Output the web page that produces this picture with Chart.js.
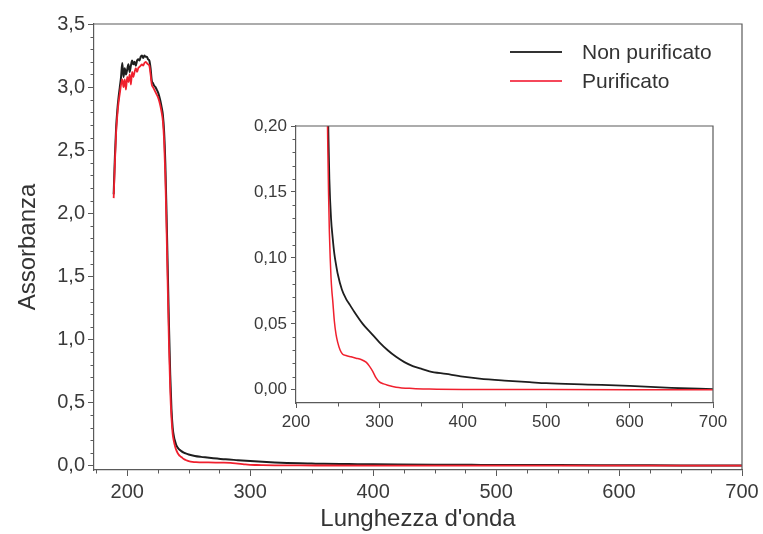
<!DOCTYPE html>
<html><head><meta charset="utf-8">
<script src="https://cdn.jsdelivr.net/npm/chart.js@4"></script>
<style>
html,body{margin:0;padding:0;background:#fff;}
#wrap{position:relative;width:763px;height:534px;font-family:"Liberation Sans",Arial,sans-serif;overflow:hidden;}
#main{position:absolute;left:0;top:0;}
#inset{position:absolute;left:230px;top:110px;}
.legline{position:absolute;left:510px;width:52px;height:0;}
.legtxt{position:absolute;left:582px;font-size:21px;color:#333;line-height:24px;white-space:nowrap;}
</style>
</head><body>
<div id="wrap">
<canvas id="main" width="763" height="534"></canvas>
<canvas id="inset" width="505" height="325"></canvas>
<div class="legline" style="top:51px;border-top:2px solid #333;"></div>
<div class="legtxt" style="top:40px;">Non purificato</div>
<div class="legline" style="top:80px;border-top:2px solid #f5475a;"></div>
<div class="legtxt" style="top:69px;">Purificato</div>
</div>
<script>
// ---- Data ----
const seriesNames = ["Non purificato", "Purificato"];

const wlNonPur = [189,190,191,192,193,194,195,196,197,198,199,200,201,202,203,204,205,206,207,208,209,210,211,212,213,214,215,216,217,218,219,220,221,222,223,224,225,226,227,228,229,230,231,232,233,234,235,236,237,238,239,240,242,244,246,248,250,255,260,265,270,280,290,300,310,320,330,340,350,360,380,400,420,450,480,500,550,600,650,700];
const absNonPur = [2.15,2.45,2.68,2.82,2.92,3.00,3.08,3.19,3.08,3.15,3.10,3.14,3.18,3.12,3.17,3.21,3.18,3.20,3.17,3.21,3.22,3.21,3.24,3.25,3.23,3.25,3.24,3.24,3.22,3.21,3.15,3.05,3.03,3.01,3.00,2.98,2.96,2.93,2.89,2.84,2.78,2.65,2.40,2.00,1.55,1.10,0.72,0.45,0.30,0.23,0.19,0.16,0.13,0.115,0.103,0.095,0.088,0.076,0.069,0.064,0.059,0.050,0.043,0.036,0.030,0.025,0.021,0.018,0.016,0.014,0.012,0.010,0.0085,0.007,0.0058,0.005,0.004,0.003,0.0015,0.0005];

const wlPur = [189,190,191,192,193,194,195,196,197,198,199,200,201,202,203,204,205,206,207,208,209,210,211,212,213,214,215,216,217,218,219,220,221,222,223,224,225,226,227,228,229,230,231,232,233,234,235,236,237,238,239,240,241,242,243,244,246,248,250,253,256,260,266,272,278,284,288,292,296,300,305,310,320,340,360,400,500,600,700];
const absPur = [2.12,2.40,2.64,2.78,2.88,2.95,3.02,3.06,3.00,3.06,2.98,3.08,3.04,3.10,3.02,3.12,3.08,3.12,3.15,3.12,3.15,3.16,3.17,3.18,3.17,3.19,3.20,3.19,3.18,3.17,3.10,3.02,3.00,2.98,2.96,2.94,2.92,2.89,2.85,2.80,2.73,2.58,2.30,1.88,1.40,0.95,0.60,0.38,0.25,0.19,0.15,0.12,0.10,0.085,0.075,0.068,0.052,0.042,0.036,0.030,0.027,0.026,0.025,0.024,0.023,0.021,0.018,0.014,0.009,0.006,0.0045,0.0035,0.002,0.001,0.0006,0.0003,0.0002,0.0001,0.0];

// Tick labels / positions
const mainXTicks = [200,300,400,500,600,700];
const mainXMinor = [175,225,250,275,325,350,375,425,450,475,525,550,575,625,650,675];
const mainYTicks = [0,0.5,1.0,1.5,2.0,2.5,3.0,3.5];
const mainYMinor = [0.1,0.2,0.3,0.4,0.6,0.7,0.8,0.9,1.1,1.2,1.3,1.4,1.6,1.7,1.8,1.9,2.1,2.2,2.3,2.4,2.6,2.7,2.8,2.9,3.1,3.2,3.3,3.4];
const insetXTicks = [200,300,400,500,600,700];
const insetXMinor = [250,350,450,550,650];
const insetYTicks = [0,0.05,0.10,0.15,0.20];
const insetYMinor = [0.01,0.02,0.03,0.04,0.06,0.07,0.08,0.09,0.11,0.12,0.13,0.14,0.16,0.17,0.18,0.19];

const colNonPur = '#1e1e1e';
const colPur = '#f0202e';
const axisCol = '#5a5a5a';
const labelCol = '#3a3a3a';
const FONT = '"Liberation Sans", Arial, sans-serif';

function pts(xs, ys){ return xs.map((x,i)=>({x:x,y:ys[i]})); }

const frameAndMinor = {
  id:'frameAndMinor',
  afterDraw(chart, args, opts){
    const ctx = chart.ctx, a = chart.chartArea;
    ctx.save();
    ctx.strokeStyle = axisCol; ctx.lineWidth = 1.2;
    ctx.beginPath();
    ctx.moveTo(a.left, a.top); ctx.lineTo(a.right, a.top); ctx.lineTo(a.right, a.bottom);
    ctx.stroke();
    ctx.lineWidth = 1;
    const xs = chart.scales.x, ys = chart.scales.y;
    ctx.beginPath();
    (opts.xMinor||[]).forEach(v=>{ const p = Math.round(xs.getPixelForValue(v))+0.5; ctx.moveTo(p, a.bottom); ctx.lineTo(p, a.bottom+3.5); });
    (opts.yMinor||[]).forEach(v=>{ const p = Math.round(ys.getPixelForValue(v))+0.5; ctx.moveTo(a.left-3.5, p); ctx.lineTo(a.left, p); });
    ctx.stroke();
    ctx.restore();
  }
};

function makeChart(canvas, cfg){
  return new Chart(canvas, {
    type:'line',
    data:{ datasets:[
      { label:seriesNames[0], data:pts(wlNonPur, absNonPur), borderColor:colNonPur, borderWidth:cfg.bw0, pointRadius:0, cubicInterpolationMode:'monotone', order:2 },
      { label:seriesNames[1], data:pts(wlPur, absPur), borderColor:colPur, borderWidth:cfg.bw1, pointRadius:0, cubicInterpolationMode:'monotone', order:1 }
    ]},
    options:{
      responsive:false, animation:false, devicePixelRatio:1,
      layout:{ padding:cfg.padding },
      plugins:{ legend:{display:false}, tooltip:{enabled:false}, frameAndMinor:{ xMinor:cfg.xMinor, yMinor:cfg.yMinor } },
      scales:{
        x:{ type:'linear', min:cfg.xmin, max:cfg.xmax,
            afterBuildTicks:s=>{ s.ticks = cfg.xTicks.map(v=>({value:v})); },
            afterFit:s=>{ s.height = cfg.xh; },
            ticks:{ autoSkip:false, maxRotation:0, padding:cfg.xpad, color:labelCol, font:{family:FONT, size:cfg.tickSize}, callback:v=>String(v) },
            grid:{ drawOnChartArea:false, drawTicks:true, tickLength:cfg.tl, tickColor:axisCol, tickWidth:1 },
            border:{ display:true, color:axisCol, width:1.2 },
            title:{ display:!!cfg.xTitle, text:cfg.xTitle||'', color:'#333', font:{family:FONT, size:cfg.titleSize}, padding:{top:0,bottom:0} }
        },
        y:{ type:'linear', min:cfg.ymin, max:cfg.ymax,
            afterBuildTicks:s=>{ s.ticks = cfg.yTicks.map(v=>({value:v})); },
            afterFit:s=>{ s.width = cfg.yw; },
            ticks:{ autoSkip:false, padding:cfg.ypad, color:labelCol, font:{family:FONT, size:cfg.tickSize}, callback:v=>v.toFixed(cfg.dec).replace('.',',') },
            grid:{ drawOnChartArea:false, drawTicks:true, tickLength:cfg.tl, tickColor:axisCol, tickWidth:1 },
            border:{ display:true, color:axisCol, width:1.2 },
            title:{ display:!!cfg.yTitle, text:cfg.yTitle||'', color:'#333', font:{family:FONT, size:cfg.titleSize}, padding:{top:14,bottom:0} }
        }
      }
    },
    plugins:[frameAndMinor]
  });
}

makeChart(document.getElementById('main'), {
  bw0:2, bw1:1.8,
  padding:{top:24,right:21,left:0,bottom:0},
  xmin:173, xmax:700, ymin:-0.035, ymax:3.5,
  xTicks:mainXTicks, yTicks:mainYTicks, xMinor:mainXMinor, yMinor:mainYMinor,
  xh:64, yw:94, tl:6, xpad:4, ypad:3, tickSize:20, dec:1,
  xTitle:"Lunghezza d'onda", yTitle:'Assorbanza', titleSize:24
});

makeChart(document.getElementById('inset'), {
  bw0:1.8, bw1:1.5,
  padding:{top:16,right:22,left:0,bottom:0},
  xmin:200, xmax:700, ymin:-0.01, ymax:0.20,
  xTicks:insetXTicks, yTicks:insetYTicks, xMinor:insetXMinor, yMinor:insetYMinor,
  xh:32, yw:66, tl:5, xpad:4, ypad:4, tickSize:17, dec:2,
  titleSize:17
});
</script>
</body></html>
